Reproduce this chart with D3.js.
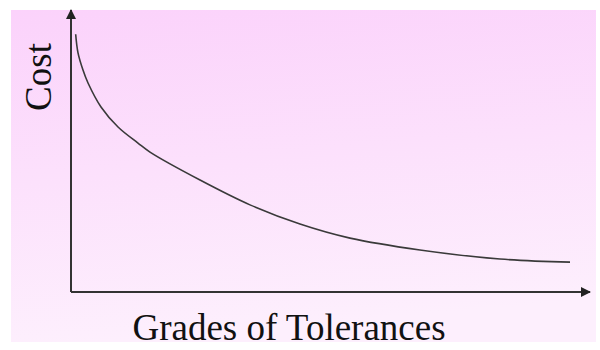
<!DOCTYPE html>
<html>
<head>
<meta charset="utf-8">
<script src="https://cdn.jsdelivr.net/npm/d3@7/dist/d3.min.js"></script>
<style>
  html, body { margin: 0; padding: 0; background: #ffffff; }
  svg { display: block; }
</style>
</head>
<body>
<svg id="chart" width="600" height="350"></svg>
<script>
// Cost versus tolerance grade (relative units, 0–100 on both axes)
const grades = [0.9, 1.35, 2.31, 3.28, 5.78, 9.06, 12.91, 15.22, 24.86, 34.49, 44.12, 53.76, 67.24, 82.66, 96.15];
const costs  = [91.4, 84.8, 78.7, 74.1, 65.6, 58.5, 52.8, 49.6, 39.7, 30.9, 24.1, 19.1, 14.9, 11.7, 10.6];
const xTitle = "Grades of Tolerances";
const yTitle = "Cost";

const svg = d3.select("#chart");

// soft pink backdrop
const defs = svg.append("defs");
const grad = defs.append("linearGradient")
  .attr("id", "bg").attr("x1", 0).attr("y1", 0).attr("x2", 0.15).attr("y2", 1);
grad.append("stop").attr("offset", "0%").attr("stop-color", "#fbd2fb");
grad.append("stop").attr("offset", "100%").attr("stop-color", "#fdeffd");

svg.append("rect")
  .attr("x", 11).attr("y", 10).attr("width", 585).attr("height", 332)
  .attr("fill", "url(#bg)");

// arrowhead marker
defs.append("marker")
  .attr("id", "arrow")
  .attr("viewBox", "0 0 10 10")
  .attr("refX", 9).attr("refY", 5)
  .attr("markerWidth", 5.5).attr("markerHeight", 5)
  .attr("markerUnits", "strokeWidth")
  .attr("orient", "auto")
  .append("path").attr("d", "M0,0 L10,5 L0,10 Z").attr("fill", "#222");

const x = d3.scaleLinear().domain([0, 100]).range([71, 590]);
const y = d3.scaleLinear().domain([0, 100]).range([292, 10]);

// axes with arrows
svg.append("line")
  .attr("x1", x(0)).attr("y1", y(0)).attr("x2", x(0)).attr("y2", y(100))
  .attr("stroke", "#333").attr("stroke-width", 2).attr("marker-end", "url(#arrow)");
svg.append("line")
  .attr("x1", x(0)).attr("y1", y(0)).attr("x2", x(100)).attr("y2", y(0))
  .attr("stroke", "#333").attr("stroke-width", 2).attr("marker-end", "url(#arrow)");

// cost curve
const pts = grades.map((g, i) => [g, costs[i]]);
svg.append("path")
  .datum(pts)
  .attr("fill", "none")
  .attr("stroke", "#3a3a3a")
  .attr("stroke-width", 1.6)
  .attr("d", d3.line().x(d => x(d[0])).y(d => y(d[1])).curve(d3.curveCatmullRom.alpha(0.5)));

// axis titles
svg.append("text")
  .attr("x", 289).attr("y", 340)
  .attr("text-anchor", "middle")
  .attr("font-family", "'Liberation Serif', 'Times New Roman', serif")
  .attr("font-size", 37)
  .attr("fill", "#111")
  .text(xTitle);

svg.append("text")
  .attr("transform", "translate(51,77) rotate(-90)")
  .attr("text-anchor", "middle")
  .attr("font-family", "'Liberation Serif', 'Times New Roman', serif")
  .attr("font-size", 37)
  .attr("fill", "#111")
  .text(yTitle);
</script>
</body>
</html>
